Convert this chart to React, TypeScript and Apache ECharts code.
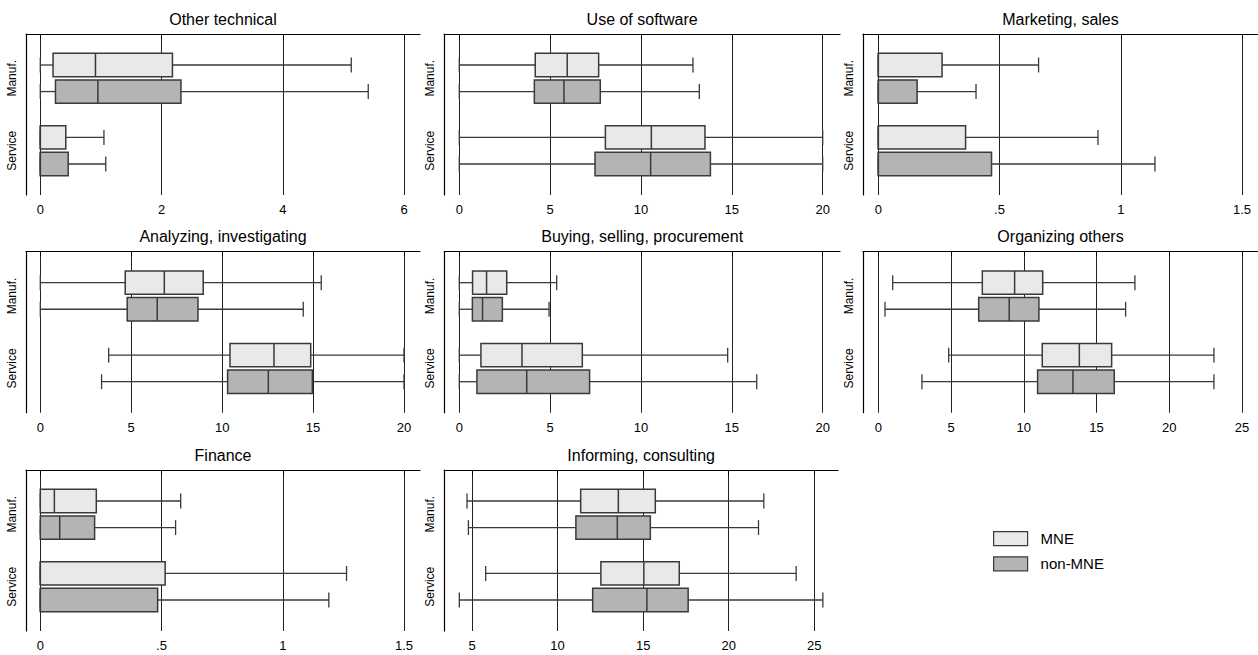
import React, { useEffect, useRef } from "react";
import * as echarts from "echarts";

const panelTitles = [
  "Other technical",
  "Use of software",
  "Marketing, sales",
  "Analyzing, investigating",
  "Buying, selling, procurement",
  "Organizing others",
  "Finance",
  "Informing, consulting",
];
const sectors = ["Manuf.", "Service"];
const groups = ["MNE", "non-MNE"];

// each row: [lower whisker, Q1, median, Q3, upper whisker]; rows = Manuf., Service
const otherTechnicalMNE = [[0, 0.21, 0.91, 2.18, 5.13], [0, 0, 0, 0.42, 1.05]];
const otherTechnicalNonMNE = [[0, 0.25, 0.95, 2.32, 5.41], [0, 0, 0, 0.46, 1.08]];
const softwareMNE = [[0, 4.18, 5.94, 7.67, 12.86], [0, 8.04, 10.57, 13.52, 20]];
const softwareNonMNE = [[0, 4.13, 5.76, 7.76, 13.21], [0, 7.47, 10.53, 13.82, 20]];
const marketingMNE = [[0, 0, 0, 0.263, 0.661], [0, 0, 0, 0.36, 0.906]];
const marketingNonMNE = [[0, 0, 0, 0.16, 0.403], [0, 0, 0, 0.467, 1.141]];
const analyzingMNE = [[0, 4.67, 6.82, 8.96, 15.45], [3.76, 10.43, 12.85, 14.87, 20]];
const analyzingNonMNE = [[0, 4.78, 6.43, 8.67, 14.46], [3.37, 10.3, 12.54, 14.96, 20]];
const buyingMNE = [[0, 0.73, 1.5, 2.61, 5.36], [0, 1.19, 3.45, 6.77, 14.77]];
const buyingNonMNE = [[0, 0.72, 1.28, 2.37, 4.94], [0, 0.97, 3.71, 7.17, 16.37]];
const organizingMNE = [[0.99, 7.15, 9.37, 11.3, 17.64], [4.84, 11.27, 13.82, 16.04, 23.07]];
const organizingNonMNE = [[0.46, 6.9, 9.0, 11.04, 17.0], [3.0, 10.95, 13.38, 16.22, 23.07]];
const financeMNE = [[0, 0, 0.058, 0.231, 0.579], [0, 0, 0, 0.515, 1.263]];
const financeNonMNE = [[0, 0, 0.08, 0.224, 0.558], [0, 0, 0, 0.484, 1.19]];
const informingMNE = [[4.71, 11.35, 13.55, 15.71, 22.05], [5.8, 12.53, 15.04, 17.11, 23.94]];
const informingNonMNE = [[4.79, 11.07, 13.49, 15.42, 21.74], [4.26, 12.05, 15.22, 17.63, 25.5]];

// x-axis ticks: [first tick, last tick, step]
const otherTechnicalTicks = [0, 6, 2];
const softwareTicks = [0, 20, 5];
const marketingTicks = [0, 1.5, 0.5];
const analyzingTicks = [0, 20, 5];
const buyingTicks = [0, 20, 5];
const organizingTicks = [0, 25, 5];
const financeTicks = [0, 1.5, 0.5];
const informingTicks = [5, 25, 5];

const panelMNE = [otherTechnicalMNE, softwareMNE, marketingMNE, analyzingMNE, buyingMNE, organizingMNE, financeMNE, informingMNE];
const panelNonMNE = [otherTechnicalNonMNE, softwareNonMNE, marketingNonMNE, analyzingNonMNE, buyingNonMNE, organizingNonMNE, financeNonMNE, informingNonMNE];
const panelTicks = [otherTechnicalTicks, softwareTicks, marketingTicks, analyzingTicks, buyingTicks, organizingTicks, financeTicks, informingTicks];

// layout (pixels)
const ROW_TOP = [34, 251.7, 470];
const PLOT_H = 161;
// [outer left, inner left (first tick), inner right (last tick), outer right]
const COL_X = [
  [26, 40.3, 404, 420],
  [444.3, 459.3, 822.7, 840],
  [863, 878.3, 1242, 1258],
];
const INFORMING_X = [444.3, 472, 814.3, 838];

const FONT = "'Liberation Sans', Arial, Helvetica, sans-serif";
const FILLS = ["#e8e9e8", "#b4b4b4"];
const STROKE = "#3a3a3a";
const GRID_COLOR = "#222";

// y units for the category band (0..40)
const Y_MAX = 40;
const SECTOR_CENTER = [11, 29];
const GROUP_OFFSET = 3.3;
const BOX_HALF = 2.9;
const CAP_HALF = 1.85;

function fmtTick(v: number) {
  const s = String(Math.round(v * 1000) / 1000);
  return s.startsWith("0.") ? s.slice(1) : s;
}

function makeRenderItem(groupIdx: number) {
  return (params: any, api: any) => {
    const s = api.value(0);
    const yc = SECTOR_CENTER[s] + (groupIdx === 0 ? -GROUP_OFFSET : GROUP_OFFSET);
    const vals = [1, 2, 3, 4, 5].map((i) => api.value(i));
    const xs = vals.map((v: number) => api.coord([v, yc])[0]);
    const y = api.coord([vals[0], yc])[1];
    const hb = Math.abs(api.coord([vals[0], yc + BOX_HALF])[1] - api.coord([vals[0], yc - BOX_HALF])[1]) / 2;
    const hc = Math.abs(api.coord([vals[0], yc + CAP_HALF])[1] - api.coord([vals[0], yc - CAP_HALF])[1]) / 2;
    const ls = { stroke: STROKE, lineWidth: 1.3 };
    return {
      type: "group",
      children: [
        { type: "line", shape: { x1: xs[0], y1: y, x2: xs[1], y2: y }, style: ls },
        { type: "line", shape: { x1: xs[3], y1: y, x2: xs[4], y2: y }, style: ls },
        { type: "line", shape: { x1: xs[0], y1: y - hc, x2: xs[0], y2: y + hc }, style: ls },
        { type: "line", shape: { x1: xs[4], y1: y - hc, x2: xs[4], y2: y + hc }, style: ls },
        {
          type: "rect",
          shape: { x: xs[1], y: y - hb, width: xs[3] - xs[1], height: 2 * hb },
          style: { fill: FILLS[groupIdx], stroke: STROKE, lineWidth: 1.5 },
        },
        { type: "line", shape: { x1: xs[2], y1: y - hb, x2: xs[2], y2: y + hb }, style: { stroke: STROKE, lineWidth: 1.5 } },
      ],
    };
  };
}

function buildOption() {
  const grid: any[] = [];
  const xAxis: any[] = [];
  const yAxis: any[] = [];
  const series: any[] = [];
  const title: any[] = [];

  panelTitles.forEach((name, p) => {
    const row = Math.floor(p / 3);
    const col = p % 3;
    const cx = p === 7 ? INFORMING_X : COL_X[col];
    const top = ROW_TOP[row];
    const [tmin, tmax, step] = panelTicks[p];

    // outer frame: axis lines + sector labels
    grid.push({ left: cx[0], top, width: cx[3] - cx[0], height: PLOT_H });
    xAxis.push({
      type: "value", gridIndex: 2 * p, min: 0, max: 1,
      axisLine: { show: true, lineStyle: { color: "#000", width: 1.2 } },
      axisTick: { show: false }, axisLabel: { show: false }, splitLine: { show: false },
    });
    yAxis.push({
      type: "value", gridIndex: 2 * p, min: 0, max: Y_MAX, interval: 1, inverse: true,
      axisLine: { show: true, lineStyle: { color: "#000", width: 1.2 } },
      axisTick: { show: false }, splitLine: { show: false },
      axisLabel: {
        show: true, rotate: 90, margin: 8, fontSize: 12, fontFamily: FONT, color: "#000",
        formatter: (v: number) => (v === SECTOR_CENTER[0] ? sectors[0] : v === SECTOR_CENTER[1] ? sectors[1] : ""),
      },
    });

    // inner plot: ticks, gridlines, boxes
    grid.push({ left: cx[1], top, width: cx[2] - cx[1], height: PLOT_H });
    xAxis.push({
      type: "value", gridIndex: 2 * p + 1, min: tmin, max: tmax, interval: step,
      axisLine: { show: false },
      axisTick: { show: true, length: 5, lineStyle: { color: "#000", width: 1 } },
      axisLabel: { show: true, margin: 8, fontSize: 13, fontFamily: FONT, color: "#000", formatter: fmtTick },
      splitLine: { show: true, lineStyle: { color: GRID_COLOR, width: 1 } },
    });
    yAxis.push({ type: "value", gridIndex: 2 * p + 1, min: 0, max: Y_MAX, inverse: true, show: false });

    [panelMNE[p], panelNonMNE[p]].forEach((arr, g) => {
      series.push({
        type: "custom",
        name: groups[g],
        xAxisIndex: 2 * p + 1,
        yAxisIndex: 2 * p + 1,
        itemStyle: { color: FILLS[g], borderColor: STROKE, borderWidth: 1.2 },
        renderItem: makeRenderItem(g),
        data: arr.map((d, i) => [i, ...d]),
        z: 3,
      });
    });

    title.push({
      text: name,
      left: (cx[0] + cx[3]) / 2,
      textAlign: "center",
      top: top - 23,
      padding: 0,
      textStyle: { fontSize: 16, fontWeight: "normal", color: "#000", fontFamily: FONT },
    });
  });

  return {
    animation: false,
    backgroundColor: "#fff",
    title,
    grid,
    xAxis,
    yAxis,
    series,
    legend: {
      orient: "vertical",
      left: 993,
      top: 531,
      padding: 0,
      itemWidth: 34,
      itemHeight: 14,
      itemGap: 10,
      selectedMode: false,
      textStyle: { fontSize: 15, color: "#000", fontFamily: FONT, padding: [0, 0, 0, 8] },
      data: groups.map((g, i) => ({
        name: g,
        icon: "rect",
        itemStyle: { color: FILLS[i], borderColor: STROKE, borderWidth: 1.2 },
      })),
    },
  };
}

export default function App() {
  const ref = useRef<HTMLDivElement>(null);
  useEffect(() => {
    if (!ref.current) return;
    const chart = echarts.init(ref.current, null, { renderer: "svg" });
    chart.setOption(buildOption() as any);
    return () => chart.dispose();
  }, []);
  return (
    <div
      ref={ref}
      style={{ position: "absolute", left: 0, top: 0, width: 1258, height: 655, background: "#fff" }}
    />
  );
}
